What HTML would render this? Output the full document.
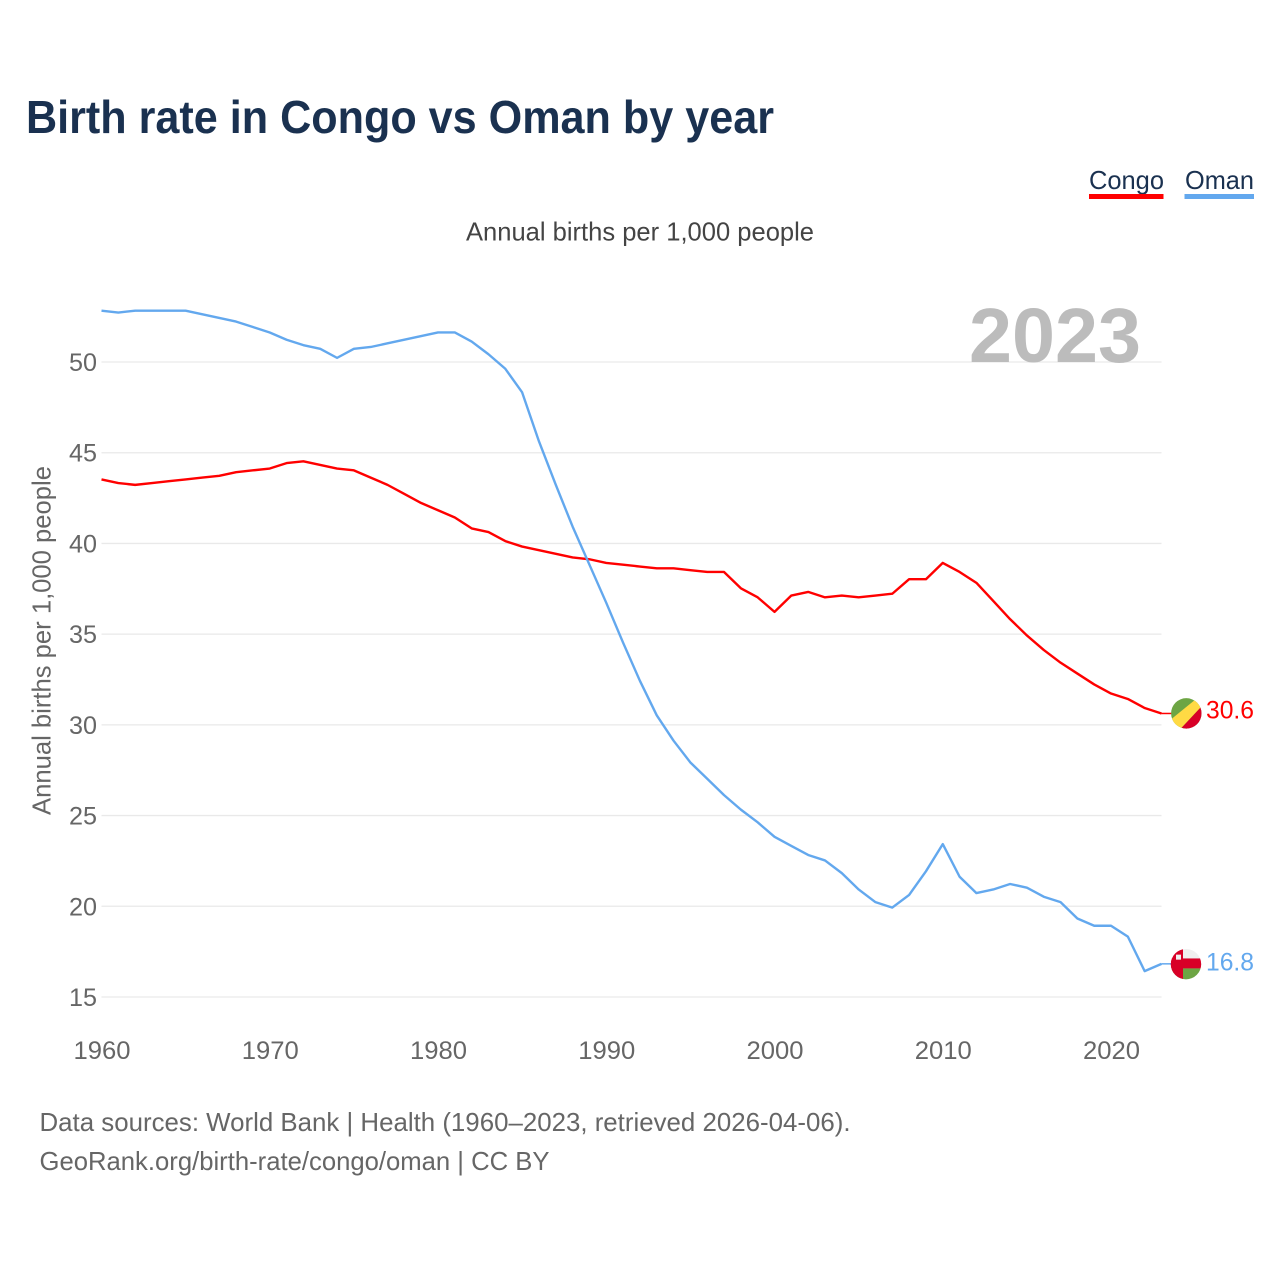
<!DOCTYPE html>
<html lang="en">
<head>
<meta charset="utf-8">
<title>Birth rate in Congo vs Oman by year</title>
<style>
html,body{margin:0;padding:0;background:#fff;}
svg{display:block;font-family:"Liberation Sans",sans-serif;}
</style>
</head>
<body>
<svg id="chart" xmlns="http://www.w3.org/2000/svg" width="1280" height="1280" viewBox="0 0 1280 1280">
  <rect width="1280" height="1280" fill="#fff"/>
  <text x="26" y="133" font-size="46" font-weight="700" fill="#1a3150" textLength="748" lengthAdjust="spacingAndGlyphs">Birth rate in Congo vs Oman by year</text>

  <g>
    <g>
      <text x="1089" y="189" font-size="26" fill="#1a3150" textLength="75" lengthAdjust="spacingAndGlyphs">Congo</text>
      <rect x="1089" y="194" width="74.5" height="5" fill="#ff0000"/>
    </g>
    <g>
      <text x="1185" y="189" font-size="26" fill="#1a3150" textLength="69" lengthAdjust="spacingAndGlyphs">Oman</text>
      <rect x="1184.5" y="194" width="69.5" height="5" fill="#63a8ee"/>
    </g>
  </g>

  <text x="466" y="240.5" font-size="26" fill="#444" textLength="348" lengthAdjust="spacingAndGlyphs">Annual births per 1,000 people</text>
  <text transform="translate(50.5,815) rotate(-90)" x="0" y="0" font-size="26" fill="#666" textLength="349" lengthAdjust="spacingAndGlyphs">Annual births per 1,000 people</text>

  <g id="grid"></g>
  <g id="y-ticks"></g>
  <g id="x-ticks"></g>

  <text x="969" y="362" font-size="77" font-weight="700" fill="#bcbcbc" textLength="172" lengthAdjust="spacingAndGlyphs">2023</text>

  <g id="series" transform="translate(0,-0.5)"></g>

  <defs>
    <clipPath id="congo-clip"><circle id="congo-clip-circle" cx="1186.3" cy="713" r="15.2"/></clipPath>
    <clipPath id="oman-clip"><circle id="oman-clip-circle" cx="1186" cy="964" r="15.2"/></clipPath>
  </defs>

  <g id="flag-congo"></g>
  <g id="flag-oman"></g>

  <text id="value-congo" x="1206" y="719" font-size="25" fill="#ff0000" textLength="48" lengthAdjust="spacingAndGlyphs"></text>
  <text id="value-oman" x="1206" y="970" font-size="25" fill="#63a8ee" textLength="48" lengthAdjust="spacingAndGlyphs"></text>

  <text x="39.5" y="1131" font-size="26" fill="#666" textLength="811" lengthAdjust="spacingAndGlyphs">Data sources: World Bank | Health (1960–2023, retrieved 2026-04-06).</text>
  <text x="39.5" y="1170" font-size="26" fill="#666" textLength="510" lengthAdjust="spacingAndGlyphs">GeoRank.org/birth-rate/congo/oman | CC BY</text>
</svg>

<script>
const years = [1960,1961,1962,1963,1964,1965,1966,1967,1968,1969,1970,1971,1972,1973,1974,1975,1976,1977,1978,1979,1980,1981,1982,1983,1984,1985,1986,1987,1988,1989,1990,1991,1992,1993,1994,1995,1996,1997,1998,1999,2000,2001,2002,2003,2004,2005,2006,2007,2008,2009,2010,2011,2012,2013,2014,2015,2016,2017,2018,2019,2020,2021,2022,2023];
const congoValues = [43.5,43.3,43.2,43.3,43.4,43.5,43.6,43.7,43.9,44.0,44.1,44.4,44.5,44.3,44.1,44.0,43.6,43.2,42.7,42.2,41.8,41.4,40.8,40.6,40.1,39.8,39.6,39.4,39.2,39.1,38.9,38.8,38.7,38.6,38.6,38.5,38.4,38.4,37.5,37.0,36.2,37.1,37.3,37.0,37.1,37.0,37.1,37.2,38.0,38.0,38.9,38.4,37.8,36.8,35.8,34.9,34.1,33.4,32.8,32.2,31.7,31.4,30.9,30.6];
const omanValues = [52.8,52.7,52.8,52.8,52.8,52.8,52.6,52.4,52.2,51.9,51.6,51.2,50.9,50.7,50.2,50.7,50.8,51.0,51.2,51.4,51.6,51.6,51.1,50.4,49.6,48.3,45.6,43.2,40.9,38.8,36.7,34.5,32.4,30.5,29.1,27.9,27.0,26.1,25.3,24.6,23.8,23.3,22.8,22.5,21.8,20.9,20.2,19.9,20.6,21.9,23.4,21.6,20.7,20.9,21.2,21.0,20.5,20.2,19.3,18.9,18.9,18.3,16.4,16.8];
const yTickValues = [15,20,25,30,35,40,45,50];
const xTickValues = [1960,1970,1980,1990,2000,2010,2020];

const NS = 'http://www.w3.org/2000/svg';
const plotLeft = 101.5, plotRight = 1161.5;
const xScale = v => plotLeft + (v - 1960) * (plotRight - plotLeft) / 63;
const yScale = v => 997 - (v - 15) * (635 / 35);
const make = (tag, parent, attrs) => {
  const el = document.createElementNS(NS, tag);
  for (const k in attrs) el.setAttribute(k, attrs[k]);
  parent.appendChild(el);
  return el;
};

const grid = document.getElementById('grid');
const yTicks = document.getElementById('y-ticks');
yTickValues.forEach(v => {
  const line = make('line', grid, {x1: plotLeft, x2: plotRight, y1: yScale(v), y2: yScale(v), stroke: '#e9e9e9', 'stroke-width': 1.3});
  
  
  const label = make('text', yTicks, {x: 97, y: yScale(v) + 9, 'text-anchor': 'end', 'font-size': 25, fill: '#666', textLength: 28, lengthAdjust: 'spacingAndGlyphs'});
  
  
  label.textContent = v;
});

const xTicks = document.getElementById('x-ticks');
xTickValues.forEach(v => {
  const label = make('text', xTicks, {x: xScale(v) + 0.5, y: 1059, 'text-anchor': 'middle', 'font-size': 25, fill: '#666', textLength: 57, lengthAdjust: 'spacingAndGlyphs'});
  
  
  label.textContent = v;
});

const seriesGroup = document.getElementById('series');
const drawSeries = (values, color, name) => {
  const d = values.map((v, i) => (i ? 'L' : 'M') + xScale(years[i]).toFixed(2) + ' ' + yScale(v).toFixed(2)).join(' ');
  const line = make('path', seriesGroup, {d, fill: 'none', stroke: color, 'stroke-width': 2.4, 'stroke-linejoin': 'round'});
  
  
  const endY = yScale(values[values.length - 1]);
  const connector = make('line', seriesGroup, {x1: plotRight, x2: 1172, y1: endY, y2: endY, stroke: color, 'stroke-width': 1.5});
  
  
  return endY;
};
const congoY = drawSeries(congoValues, '#ff0000', 'congo');
const omanY = drawSeries(omanValues, '#63a8ee', 'oman');

/* Flags follow the end of each series */
const r = 15.2;
const congoCx = 1186.3, congoCy = congoY - 0.6;
const omanCx = 1186, omanCy = omanY - 0.2;
document.getElementById('congo-clip-circle').setAttribute('cy', congoCy);
document.getElementById('oman-clip-circle').setAttribute('cy', omanCy);

const offsetPoints = (cx, cy, pts) => pts.map(p => (cx + p[0]) + ',' + (cy + p[1])).join(' ');

const congoFlag = document.getElementById('flag-congo');
const cg = make('g', congoFlag, {'clip-path': 'url(#congo-clip)'});
make('rect', cg, {x: congoCx - 17, y: congoCy - 17, width: 34, height: 34, fill: '#6da544'});
make('polygon', cg, {points: offsetPoints(congoCx, congoCy, [[-19,9],[13,-17],[19,-11],[-9,19]]), fill: '#ffda44'});
make('polygon', cg, {points: offsetPoints(congoCx, congoCy, [[-9,19],[19,-11],[19,19]]), fill: '#d80027'});

const omanFlag = document.getElementById('flag-oman');
const og = make('g', omanFlag, {'clip-path': 'url(#oman-clip)'});
make('rect', og, {x: omanCx - 16, y: omanCy - 16, width: 32, height: 10.5, fill: '#f0f0f0'});
make('rect', og, {x: omanCx - 16, y: omanCy - 5.7, width: 32, height: 10, fill: '#d80027'});
make('rect', og, {x: omanCx - 16, y: omanCy + 4.3, width: 32, height: 12, fill: '#6da544'});
make('rect', og, {x: omanCx - 16, y: omanCy - 16, width: 13, height: 32, fill: '#d80027'});
make('rect', og, {x: omanCx - 10, y: omanCy - 9.5, width: 5, height: 5, fill: '#f0f0f0'});

const congoLabel = document.getElementById('value-congo');
congoLabel.setAttribute('y', congoY + 4.5);
congoLabel.textContent = congoValues[congoValues.length - 1].toFixed(1);
const omanLabel = document.getElementById('value-oman');
omanLabel.setAttribute('y', omanY + 6);
omanLabel.textContent = omanValues[omanValues.length - 1].toFixed(1);
</script>
</body>
</html>
